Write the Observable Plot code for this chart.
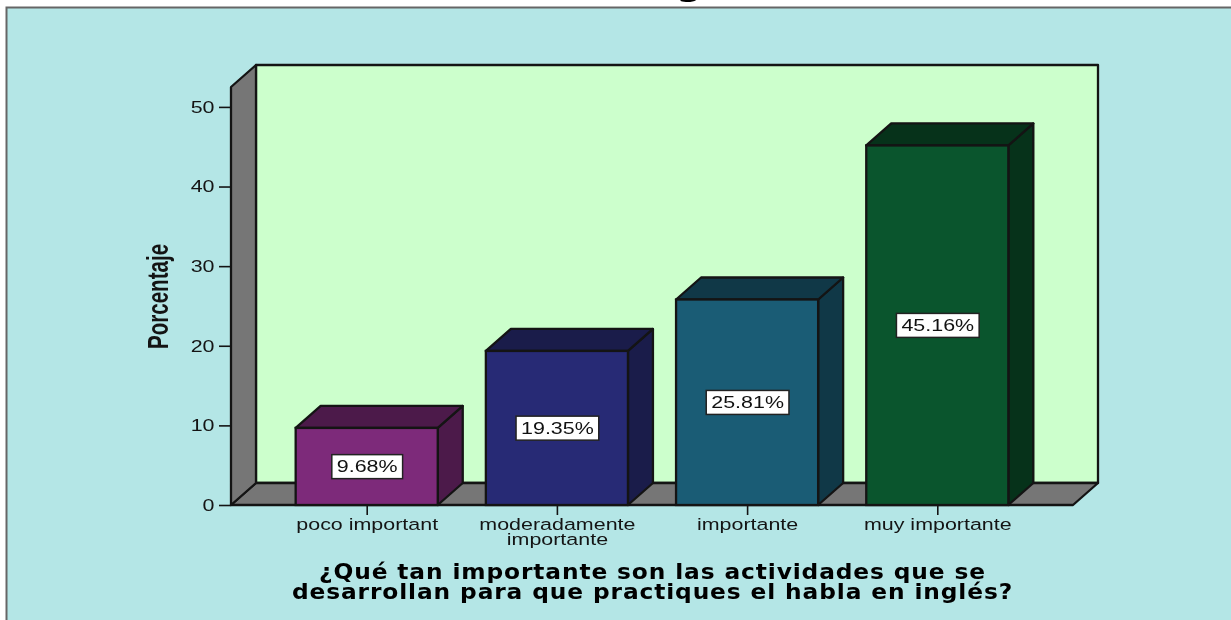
<!DOCTYPE html>
<html>
<head>
<meta charset="utf-8">
<script src="https://cdn.jsdelivr.net/npm/d3@7"></script>
<script src="https://cdn.jsdelivr.net/npm/@observablehq/plot@0.6"></script>
<style>
html,body{margin:0;padding:0;background:#fff;overflow:hidden}
svg{display:block;overflow:hidden;filter:blur(0.35px)}
</style>
</head>
<body>
<div id="chart"></div>
<script>
const categories = ["poco important", "moderadamente\nimportante", "importante", "muy importante"];
const values = [9.68, 19.35, 25.81, 45.16];
const valueLabels = ["9.68%", "19.35%", "25.81%", "45.16%"];
const frontColors = ["#7d2a7a", "#272a75", "#1a5c75", "#0a552d"];
const sideColors = ["#4c1a4a", "#1a1c4a", "#103847", "#06321a"];
const yTicks = [0, 10, 20, 30, 40, 50];
const wallTop = 52.5;
const depth = {x: 25, y: -22};
const ink = "#141414";
const rows = categories.map((c, i) => ({c, v: values[i], label: valueLabels[i], front: frontColors[i], side: sideColors[i]}));

function poly(g, pts, fill) {
  g.append("polygon").attr("points", pts.map(p => p.join(",")).join(" "))
    .attr("fill", fill).attr("stroke", ink).attr("stroke-width", 2.3).attr("stroke-linejoin", "round");
}

function walls(index, scales, values, dim) {
  const g = d3.create("svg:g").attr("aria-label", "walls");
  const L = dim.marginLeft, R = dim.width - dim.marginRight;
  const y0 = scales.y(0), yT = scales.y(wallTop);
  poly(g, [[L + depth.x, yT + depth.y], [R + depth.x, yT + depth.y], [R + depth.x, y0 + depth.y], [L + depth.x, y0 + depth.y]], "#ccffcc");
  poly(g, [[L, y0], [R, y0], [R + depth.x, y0 + depth.y], [L + depth.x, y0 + depth.y]], "#767676");
  poly(g, [[L, yT], [L + depth.x, yT + depth.y], [L + depth.x, y0 + depth.y], [L, y0]], "#767676");
  return g.node();
}

function barSides(index, scales) {
  const g = d3.create("svg:g").attr("aria-label", "bar depth");
  const bw = typeof scales.x.bandwidth === "function" ? scales.x.bandwidth() : scales.x.bandwidth;
  for (const r of rows) {
    const x0 = scales.x(r.c), x1 = x0 + bw, yv = scales.y(r.v), y0 = scales.y(0);
    poly(g, [[x1, y0], [x1, yv], [x1 + depth.x, yv + depth.y], [x1 + depth.x, y0 + depth.y]], r.side);
    poly(g, [[x0, yv], [x1, yv], [x1 + depth.x, yv + depth.y], [x0 + depth.x, yv + depth.y]], r.side);
  }
  return g.node();
}

const figure = Plot.plot({
  width: 1231,
  height: 620,
  marginLeft: 231,
  marginRight: 158,
  marginTop: 87,
  marginBottom: 115,
  style: {background: "#fff", color: ink, fontFamily: "'Liberation Sans', Arial, sans-serif"},
  x: {type: "band", domain: categories, paddingInner: 0.253, paddingOuter: 0.34, round: false, label: null},
  y: {domain: [0, wallTop], label: null},
  marks: [
    Plot.frame({fill: "#b4e6e6", stroke: "#666", strokeWidth: 2, insetLeft: -225, insetTop: -80, insetRight: -170, insetBottom: -125}),
    Plot.text(["g"], {frameAnchor: "top", dx: 37, dy: -92, lineAnchor: "bottom", fill: "#000", className: "chart-title"}),
    walls,
    barSides,
    Plot.barY(rows, {x: "c", y: "v", fill: "front", stroke: ink, strokeWidth: 2.3}),
    Plot.axisY({ticks: yTicks, tickSize: 12, tickPadding: 5, strokeWidth: 1.6, label: "Porcentaje", labelAnchor: "center", labelArrow: "none", labelOffset: 84}),
    Plot.axisX({tickSize: 10, tickPadding: 4, strokeWidth: 1.6, lineHeight: 0.9, tickFormat: d => d, label: null}),
    Plot.text(rows, {x: "c", y: d => d.v / 2, text: "label", fill: "#111", className: "value-label"}),
    Plot.text(["¿Qué tan importante son las actividades que se\ndesarrollan para que practiques el habla en inglés?"],
      {frameAnchor: "bottom", dy: 93, lineAnchor: "bottom", lineHeight: 0.95, fill: "#000", className: "x-title"})
  ]
});
document.getElementById("chart").appendChild(figure);

const root = d3.select(figure);
function restyle(selector, {size, family, weight, stretch, spacing}) {
  root.selectAll(selector + " text").each(function() {
    const t = d3.select(this);
    t.style("font-size", size + "px");
    if (family) t.style("font-family", family);
    if (weight) t.style("font-weight", weight);
    if (spacing) t.style("letter-spacing", spacing + "px");
    const tr = t.attr("transform") || "";
    t.attr("transform", `${tr} scale(${stretch},1)`.trim());
  });
}
const tickStyle = {size: 16.5, stretch: 1.3};
restyle('g[aria-label="y-axis tick label"]', tickStyle);
restyle('g[aria-label="x-axis tick label"]', tickStyle);
restyle("g.value-label", tickStyle);
restyle('g[aria-label="y-axis label"]', {size: 29, weight: 700, stretch: 0.71});
restyle("g.x-title", {size: 21, family: "'DejaVu Sans'", weight: 700, stretch: 1.11, spacing: 0.8});
restyle("g.chart-title", {size: 30, family: "'DejaVu Sans'", weight: 700, stretch: 1.2});

// white boxes behind the value labels, sized from the text they hold
const origin = figure.getBoundingClientRect();
root.selectAll("g.value-label text").each(function() {
  const b = this.getBoundingClientRect();
  const group = this.parentNode;
  d3.select(group.parentNode).insert("rect", () => group)
    .attr("x", b.left - origin.left - 5).attr("y", (b.top + b.bottom) / 2 - origin.top - 12)
    .attr("width", b.width + 10).attr("height", 24)
    .attr("fill", "#fff").attr("stroke", "#222").attr("stroke-width", 1.5);
});
</script>
</body>
</html>
